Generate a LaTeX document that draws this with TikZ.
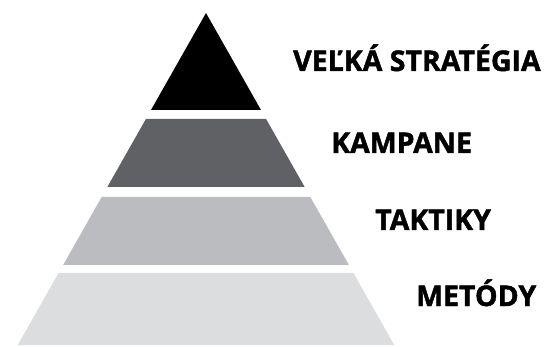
\documentclass[tikz,border=0pt]{standalone}
\usepackage{fontspec}
\setmainfont{Open Sans}[BoldFeatures={FakeBold=1.5}]
\definecolor{tierdark}{RGB}{96,97,101}
\definecolor{tiermid}{RGB}{187,188,191}
\definecolor{tierlight}{RGB}{220,221,223}
\begin{document}
\begin{tikzpicture}[x=1pt,y=-1pt]
    \tikzstyle{level}=[font=\bfseries\fontsize{28.5}{28.5}\selectfont,anchor=base west,inner sep=0pt]
    \useasboundingbox (0,0) rectangle (554,347);

    % top of the pyramid
    \fill[black] (206,13) -- (261,110) -- (151,110) -- cycle;

    % lower tiers, same slope as the top
    \foreach \top/\bot/\col in {119/187/tierdark,197/265/tiermid,273/345/tierlight}
    \fill[\col] ({206-0.567*(\top-13)},\top) -- ({206+0.567*(\top-13)},\top)
        -- ({206+0.567*(\bot-13)},\bot) -- ({206-0.567*(\bot-13)},\bot) -- cycle;

    % tier labels
    \node[level] (grand) at (293,71) {VEĽKÁ STRATÉGIA};
    \node[level] (camp) at (331,153) {KAMPANE};
    \node[level] (tact) at (375,230) {TAKTIKY};
    \node[level] (meth) at (416,306) {METÓDY};
\end{tikzpicture}
\end{document}
